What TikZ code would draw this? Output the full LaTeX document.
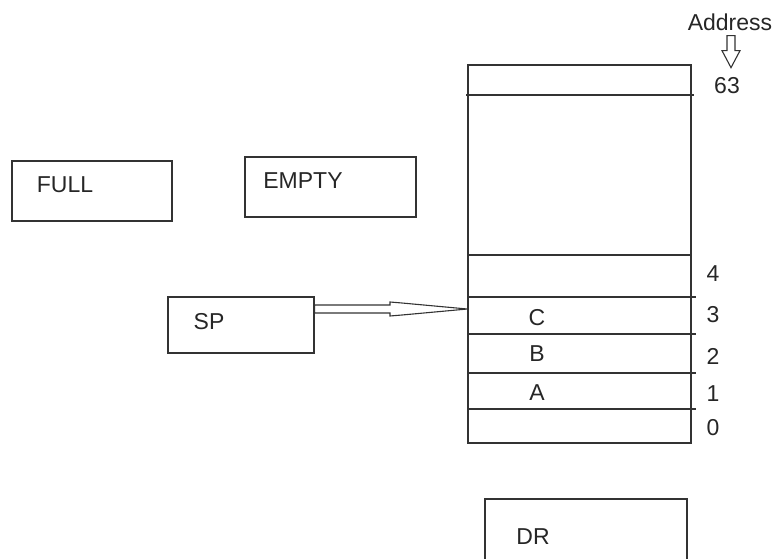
\documentclass[tikz,border=0pt]{standalone}
\usepackage{fontspec}
\setmainfont{Liberation Sans}
\usetikzlibrary{calc}
\begin{document}
\begin{tikzpicture}[x=1pt,y=-1pt,
  box/.style={draw=black!80,line width=1.3pt,inner sep=0pt},
  txt/.style={text=black!85,inner sep=0pt,font=\fontsize{23}{26}\selectfont},
  ln/.style={draw=black!80,line width=1.3pt},
  harrow/.style={draw=black!80,line width=1.1pt,line join=miter}]
\useasboundingbox (0,0) rectangle (777,558);
% boxes
\node[box,minimum width=160,minimum height=60] (fullbox) at (92,191) {};
\node[txt] (full) at (65,185) {FULL};
\node[box,minimum width=171,minimum height=60] (emptybox) at (330.5,187) {};
\node[txt] (empty) at (303,181) {EMPTY};
\node[box,minimum width=146,minimum height=56] (spbox) at (241,325) {};
\node[txt] (sp) at (209,322) {SP};
\node[box,minimum width=202,minimum height=80] (drbox) at (586,539) {};
\node[txt] (dr) at (533,537) {DR};
% stack
\node[box,minimum width=223,minimum height=378] (stack) at (579.5,254) {};
\draw[ln] (466,95) -- (694,95);
\draw[ln] (stack.west |- 0,255) -- (stack.east |- 0,255);
\foreach \yy in {297,334,373,409}{\draw[ln] (stack.west |- 0,\yy) -- (696,\yy);}
\node[txt] (C) at (537,318) {C};
\node[txt] (B) at (537,354) {B};
\node[txt] (A) at (537,393) {A};
% addresses
\node[txt] (addr) at (730,22) {Address};
\node[txt] (a63) at (727,86) {63};
\node[txt] (a4) at (713,274) {4};
\node[txt] (a3) at (713,315) {3};
\node[txt] (a2) at (713,356) {2};
\node[txt] (a1) at (713,394) {1};
\node[txt] (a0) at (713,428) {0};
% address arrow (hollow)
\coordinate (adtop) at ($(addr.south)+(1,5)$);
\draw[harrow] (adtop) ++(-4,0) -- ++(8,0) -- ++(0,15) -- ++(5,0) -- ++(-9,17) -- ++(-9,-17) -- ++(5,0) -- cycle;
% SP arrow (hollow)
\coordinate (arrS) at (spbox.east |- 0,309);
\coordinate (arrE) at (stack.west |- 0,309);
\draw[harrow] (arrS) ++(0,-4) -- (390,305) -- (390,302) -- (402,303) -- (arrE) -- (402,315) -- (390,316) -- (390,313) -- ($(arrS)+(0,4)$) -- cycle;
\end{tikzpicture}
\end{document}
